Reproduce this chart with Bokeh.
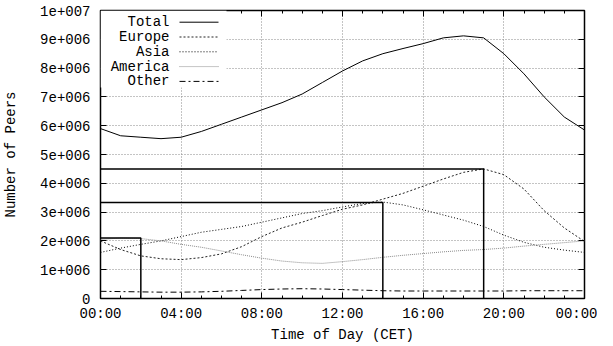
from bokeh.plotting import figure
from bokeh.models import FixedTicker, LinearAxis, Range1d, Label, Arrow, BoxAnnotation
from bokeh.embed import file_html
from bokeh.resources import INLINE

# ---- data (values in peers) ----
hours = list(range(25))
total = [5.90e6, 5.65e6, 5.60e6, 5.55e6, 5.60e6, 5.80e6, 6.05e6, 6.30e6, 6.55e6, 6.80e6,
         7.10e6, 7.50e6, 7.90e6, 8.25e6, 8.50e6, 8.68e6, 8.85e6, 9.05e6, 9.12e6, 9.05e6,
         8.50e6, 7.80e6, 7.00e6, 6.30e6, 5.85e6]
europe = [2.00e6, 1.70e6, 1.48e6, 1.38e6, 1.35e6, 1.42e6, 1.55e6, 1.80e6, 2.15e6, 2.45e6,
          2.65e6, 2.88e6, 3.10e6, 3.25e6, 3.45e6, 3.65e6, 3.90e6, 4.15e6, 4.38e6, 4.50e6,
          4.30e6, 3.80e6, 3.05e6, 2.45e6, 1.98e6]
asia = [1.60e6, 1.75e6, 1.88e6, 2.00e6, 2.15e6, 2.30e6, 2.40e6, 2.50e6, 2.65e6, 2.80e6,
        2.95e6, 3.05e6, 3.18e6, 3.30e6, 3.35e6, 3.25e6, 3.08e6, 2.90e6, 2.72e6, 2.50e6,
        2.20e6, 1.95e6, 1.78e6, 1.68e6, 1.60e6]
america = [2.05e6, 2.10e6, 2.08e6, 2.00e6, 1.88e6, 1.78e6, 1.65e6, 1.52e6, 1.40e6, 1.30e6,
           1.24e6, 1.22e6, 1.28e6, 1.35e6, 1.43e6, 1.50e6, 1.56e6, 1.62e6, 1.67e6, 1.70e6,
           1.75e6, 1.82e6, 1.88e6, 1.94e6, 2.00e6]
other = [0.25e6, 0.24e6, 0.23e6, 0.22e6, 0.22e6, 0.23e6, 0.25e6, 0.28e6, 0.31e6, 0.33e6,
         0.34e6, 0.33e6, 0.31e6, 0.29e6, 0.27e6, 0.26e6, 0.26e6, 0.26e6, 0.26e6, 0.26e6,
         0.26e6, 0.27e6, 0.27e6, 0.27e6, 0.27e6]

# peak markers (hour of peak, peak value) for America, Asia, Europe
peak_hours = [2, 14, 19]
peak_values = [2.10e6, 3.33e6, 4.50e6]

series_names = ["Total", "Europe", "Asia", "America", "Other"]

y_ticks = [0, 1e6, 2e6, 3e6, 4e6, 5e6, 6e6, 7e6, 8e6, 9e6, 1e7]
y_tick_labels = ["0", "1e+006", "2e+006", "3e+006", "4e+006", "5e+006",
                 "6e+006", "7e+006", "8e+006", "9e+006", "1e+007"]
x_ticks = [0, 4, 8, 12, 16, 20, 24]
x_tick_labels = ["00:00", "04:00", "08:00", "12:00", "16:00", "20:00", "00:00"]
x_minor = list(range(25))

FONT = "Liberation Mono"
FS = "14px"
FRAME_H = 288

p = figure(width=597, height=345, x_range=Range1d(0, 24), y_range=Range1d(0, 1e7),
           output_backend="svg", toolbar_location=None,
           min_border_left=92, min_border_right=13, min_border_top=10, min_border_bottom=47)
p.outline_line_color = "black"
p.outline_line_width = 1.5
p.background_fill_color = "white"
p.border_fill_color = "white"

xt = FixedTicker(ticks=x_ticks, minor_ticks=x_minor)
yt = FixedTicker(ticks=y_ticks, minor_ticks=[])

def style_axis(ax, ticker, show_labels=True):
    ax.ticker = ticker
    ax.axis_line_color = None
    ax.major_tick_in = 6
    ax.major_tick_out = 0
    ax.minor_tick_in = 3
    ax.minor_tick_out = 0
    ax.major_tick_line_color = "black"
    ax.minor_tick_line_color = "black"
    ax.major_label_text_font = FONT
    ax.major_label_text_font_size = FS if show_labels else "0px"
    ax.major_label_text_color = "black"
    ax.axis_label_text_font = FONT
    ax.axis_label_text_font_size = FS
    ax.axis_label_text_font_style = "normal"
    ax.axis_label_text_color = "black"

xaxis = p.xaxis[0]
yaxis = p.yaxis[0]
style_axis(xaxis, xt)
style_axis(yaxis, yt)
xaxis.major_label_overrides = {t: l for t, l in zip(x_ticks, x_tick_labels)}
yaxis.major_label_overrides = {t: l for t, l in zip(y_ticks, y_tick_labels)}
xaxis.axis_label = "Time of Day (CET)"
yaxis.axis_label = "Number of Peers"
xaxis.major_label_standoff = 7
xaxis.axis_label_standoff = 2
yaxis.major_label_standoff = 10
yaxis.axis_label_standoff = 18

top = LinearAxis()
style_axis(top, FixedTicker(ticks=x_ticks, minor_ticks=x_minor), show_labels=False)
top.major_label_standoff = 0
top.major_label_text_alpha = 0
right = LinearAxis()
style_axis(right, FixedTicker(ticks=y_ticks, minor_ticks=[]), show_labels=False)
right.major_label_standoff = 0
right.major_label_text_alpha = 0
p.add_layout(top, "above")
p.add_layout(right, "right")

for g, t in ((p.xgrid[0], xt), (p.ygrid[0], yt)):
    g.ticker = t
    g.grid_line_color = "#888888"
    g.grid_line_dash = "1 2"
    g.grid_line_width = 1

# series
p.line(hours, total, line_color="black", line_width=1)
p.line(hours, europe, line_color="#222222", line_width=1, line_dash="2 2")
p.line(hours, asia, line_color="black", line_width=1, line_dash="1 2")
p.line(hours, america, line_color="#8a8a8a", line_width=1, line_dash="1 1")
p.line(hours, other, line_color="black", line_width=1, line_dash="6 3 2 3")

# peak boxes
xs = [[0, h, h] for h in peak_hours]
ys = [[v, v, 0] for v in peak_values]
p.multi_line(xs, ys, line_color="black", line_width=1.5)

# legend (drawn manually: text right-aligned, sample to the right)
p.add_layout(BoxAnnotation(left=0, right=126, bottom=FRAME_H - 77, top=FRAME_H,
                           left_units="screen", right_units="screen",
                           bottom_units="screen", top_units="screen",
                           fill_color="white", fill_alpha=1, line_color=None, level="overlay"))
styles = [dict(line_color="black"), dict(line_color="#222222", line_dash="2 2"),
          dict(line_color="black", line_dash="1 2"), dict(line_color="#8a8a8a", line_dash="1 1"),
          dict(line_color="black", line_dash="6 3 2 3")]
for i, (name, st) in enumerate(zip(series_names, styles)):
    yy = FRAME_H - 11.7 - 14.8 * i
    p.add_layout(Label(x=69, y=yy, x_units="screen", y_units="screen", text=name,
                       text_align="right", text_baseline="middle", text_font=FONT,
                       text_font_size=FS, text_color="black", level="overlay"))
    p.add_layout(Arrow(x_start=79, y_start=yy, x_end=118, y_end=yy,
                       start_units="screen", end_units="screen", end=None,
                       line_width=1, level="overlay", **st))

open("out.html", "w").write(file_html(p, INLINE))
